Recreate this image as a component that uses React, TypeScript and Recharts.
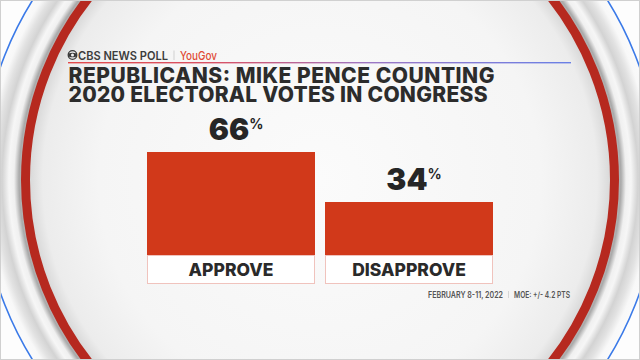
import React from "react";
import { BarChart, Bar, XAxis, YAxis, LabelList } from "recharts";

// ── poll numbers ──
const CATEGORIES = ["APPROVE", "DISAPPROVE"];
const VALUES = [66, 34];

// ── texts ──
const BRAND = "CBS NEWS POLL";
const PARTNER = "YouGov";
const TITLE_LINES = ["REPUBLICANS: MIKE PENCE COUNTING", "2020 ELECTORAL VOTES IN CONGRESS"];
const FIELD_DATES = "FEBRUARY 8-11, 2022";
const MOE = "MOE: +/- 4.2 PTS";

const data = CATEGORIES.map((category, i) => ({ category, value: VALUES[i] }));

const W = 640;
const H = 360;
const BAR_W = 168;
const BAR_RED = "#d1391a";
const FONT = "Inter, 'Noto Sans', sans-serif";

/* ── Studio backdrop: rings + header copy ── */
function Backdrop() {
  return (
    <svg width={W} height={H} style={{ position: "absolute", left: 0, top: 0 }}>
      <defs>
        <radialGradient id="inner" cx={320} cy={180} r={295} gradientUnits="userSpaceOnUse">
          <stop offset="0" stopColor="#fbfbfb" />
          <stop offset="0.75" stopColor="#f5f5f5" />
          <stop offset="0.94" stopColor="#ececec" />
          <stop offset="1" stopColor="#d2d2d2" />
        </radialGradient>
        <radialGradient id="rim" cx={320} cy={180} r={340} gradientUnits="userSpaceOnUse">
          <stop offset="0.87" stopColor="#c4c4c4" />
          <stop offset="0.885" stopColor="#a9a9a9" />
          <stop offset="0.9" stopColor="#f0f0f0" />
          <stop offset="0.915" stopColor="#f6f6f6" />
          <stop offset="0.935" stopColor="#d3d3d3" />
          <stop offset="0.955" stopColor="#e2e2e2" />
          <stop offset="0.975" stopColor="#f8f8f8" />
          <stop offset="1" stopColor="#fbfbfb" />
        </radialGradient>
        <linearGradient id="rule" x1="0" x2="1" y1="0" y2="0">
          <stop offset="0" stopColor="#e2494a" />
          <stop offset="0.3" stopColor="#d75266" />
          <stop offset="0.6" stopColor="#9c77c4" />
          <stop offset="1" stopColor="#6a80e6" />
        </linearGradient>
      </defs>
      <rect width={W} height={H} fill="#fdfdfd" />
      <circle cx={320} cy={180} r={339} fill="url(#rim)" stroke="#3b7ae8" strokeWidth={1.6} />
      <circle cx={320} cy={180} r={294.5} fill="url(#inner)" stroke="#b6291f" strokeWidth={9} />
      <rect x={0.5} y={0.5} width={W - 1} height={H - 1} fill="none" stroke="#d0d0d0" strokeWidth={1} />

      {/* header */}
      <circle cx={72.5} cy={55} r={4.3} fill="none" stroke="#3a3a3a" strokeWidth={1.3} />
      <ellipse cx={72.5} cy={55} rx={4.3} ry={2.3} fill="#3a3a3a" />
      <circle cx={72.5} cy={55} r={1.5} fill="#f5f5f5" />
      <text x={78} y={59.5} fontFamily={FONT} fontSize={12} fontWeight={600} fill="#3d3d3d" textLength={90} lengthAdjust="spacingAndGlyphs">
        {BRAND}
      </text>
      <line x1={174} x2={174} y1={50.5} y2={60} stroke="#c8c8c8" strokeWidth={0.8} />
      <text x={180} y={59.5} fontFamily={FONT} fontSize={12} fontWeight={500} fill="#e04a33" textLength={37} lengthAdjust="spacingAndGlyphs">
        {PARTNER}
      </text>
      <rect x={68} y={62} width={503} height={1.4} fill="url(#rule)" />

      <text fontFamily={FONT} fontSize={21} fontWeight={800} fill="#2c2c2c">
        {TITLE_LINES.map((t, i) => (
          <tspan key={t} x={68.5} y={83 + i * 19} textLength={i === 0 ? 426 : 419} lengthAdjust="spacing">
            {t}
          </tspan>
        ))}
      </text>

      {/* footnote */}
      <text x={428} y={298} fontFamily={FONT} fontSize={8.5} fontWeight={600} fill="#555" textLength={75} lengthAdjust="spacingAndGlyphs">
        {FIELD_DATES}
      </text>
      <line x1={508.5} x2={508.5} y1={291} y2={298} stroke="#c8c8c8" strokeWidth={0.7} />
      <text x={514} y={298} fontFamily={FONT} fontSize={8.5} fontWeight={600} fill="#555" textLength={56} lengthAdjust="spacingAndGlyphs">
        {MOE}
      </text>
    </svg>
  );
}

/* ── category box under each bar ── */
function BoxTick({ x, y, payload }: any) {
  return (
    <g>
      <rect x={x - BAR_W / 2 + 0.5} y={y + 0.5} width={BAR_W - 1} height={28} fill="#ffffff" stroke="#f0c3bd" strokeWidth={1} />
      <text x={x} y={y + 20.5} textAnchor="middle" fontFamily={FONT} fontSize={17.5} fontWeight={800} fill="#2a2a2a">
        {payload.value}
      </text>
    </g>
  );
}

/* ── big percentage over each bar ── */
function PctLabel({ x, y, width, value }: any) {
  return (
    <text x={x + width / 2 + 5} y={y - 12} textAnchor="middle" fontFamily={FONT} fill="#262626">
      <tspan fontSize={30} fontWeight={900}>{value}</tspan>
      <tspan fontSize={14} fontWeight={700} dx={0} dy={-11}>%</tspan>
    </text>
  );
}

export default function App() {
  return (
    <div style={{ position: "absolute", left: 0, top: 0, width: W, height: H, overflow: "hidden" }}>
      <Backdrop />
      <div style={{ position: "absolute", left: 0, top: 0 }}>
        <BarChart width={W} height={H} data={data} margin={{ top: 99, right: 142, bottom: 75, left: 142 }}>
          <YAxis hide domain={[0, 100]} />
          <XAxis
            dataKey="category"
            axisLine={false}
            tickLine={false}
            tickSize={0}
            tickMargin={0}
            height={30}
            interval={0}
            tick={<BoxTick />}
          />
          <Bar dataKey="value" fill={BAR_RED} barSize={BAR_W} isAnimationActive={false}>
            <LabelList dataKey="value" content={<PctLabel />} />
          </Bar>
        </BarChart>
      </div>
    </div>
  );
}
